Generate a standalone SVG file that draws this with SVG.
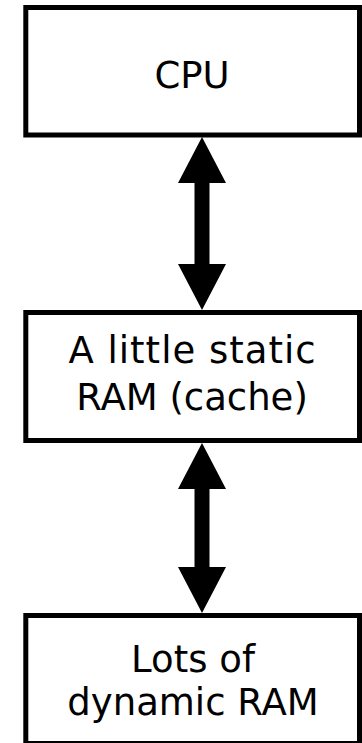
<svg xmlns="http://www.w3.org/2000/svg" width="362" height="743" viewBox="0 0 362 743">
<style>
.box{fill:#fff;stroke:#000;stroke-width:5}
.lbl{font-family:"DejaVu Sans","Liberation Sans",sans-serif;font-size:37px;fill:#000;text-anchor:middle}
.arr{fill:#000}
</style>
<rect width="362" height="743" fill="#fff"/>
<g id="connectors">
<polygon class="arr" points="202,137 226,183 209.5,183 209.5,264 226,264 202,310 178,264 194.5,264 194.5,183 178,183"/>
<polygon class="arr" points="202,443 226,489 209.5,489 209.5,567 226,567 202,613 178,567 194.5,567 194.5,489 178,489"/>
</g>
<g id="cpu">
<rect class="box" x="25.8" y="7.5" width="333.7" height="127.5"/>
<text class="lbl" x="192" y="88">CPU</text>
</g>
<g id="cache">
<rect class="box" x="25.8" y="312.5" width="333.7" height="128"/>
<text class="lbl" x="192" y="363" textLength="247">A little static</text>
<text class="lbl" x="192" y="410">RAM (cache)</text>
</g>
<g id="dram">
<rect class="box" x="25.8" y="615.5" width="333.7" height="128"/>
<text class="lbl" x="193" y="672">Lots of</text>
<text class="lbl" x="193" y="715">dynamic RAM</text>
</g>
</svg>
